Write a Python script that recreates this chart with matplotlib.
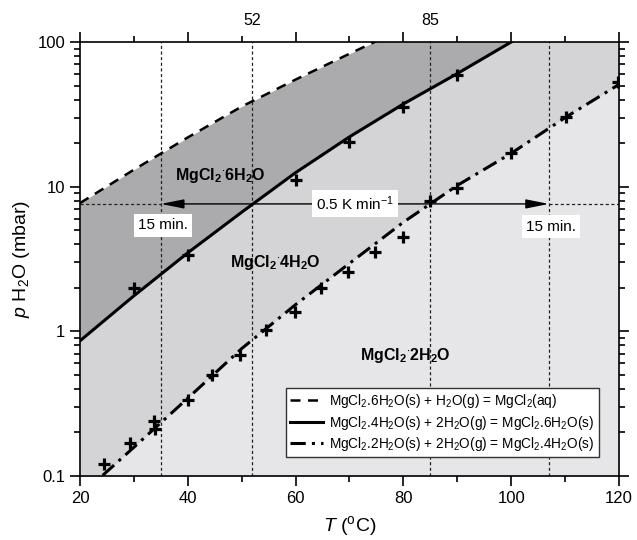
"""Phase diagram of MgCl2 hydrates: water vapour pressure vs temperature."""

import matplotlib

matplotlib.use("Agg")
import matplotlib.pyplot as plt
from matplotlib.ticker import MultipleLocator, LogLocator, NullFormatter

plt.rcParams["font.family"] = ["Liberation Sans", "DejaVu Sans"]
plt.rcParams["mathtext.fontset"] = "custom"
plt.rcParams["mathtext.rm"] = "Liberation Sans"
plt.rcParams["mathtext.it"] = "Liberation Sans:italic"
plt.rcParams["mathtext.bf"] = "Liberation Sans:bold"

# equilibrium curves, read on a common temperature grid (degC -> mbar)
temp = [20, 30, 40, 50, 60, 70, 80, 90, 100, 110, 120]
p_hexa_aq = [7.7, 13.1, 21.9, 35.8, 55, 83, 124, 185, 270, 390, 560]
p_tetra_hexa = [0.86, 1.76, 3.49, 6.66, 12.5, 22.1, 37.3, 60.5, 100, 163, 265]
p_di_tetra = [0.073, 0.158, 0.345, 0.76, 1.53, 2.95, 5.68, 10.2, 17.0, 30, 50.9]

# measured points
t_meas_46 = [30, 40, 60, 70, 80, 90]
p_meas_46 = [2.0, 3.37, 11.1, 20.5, 35.4, 59]
t_meas_24 = [24.5, 29.3, 33.8, 34.0, 40, 44.5, 49.7, 54.6, 59.9, 64.7, 69.8, 74.7, 80, 84.9, 89.9, 99.9, 110.1, 119.8]
p_meas_24 = [0.121, 0.17, 0.24, 0.213, 0.335, 0.5, 0.69, 1.02, 1.37, 1.98, 2.56, 3.55, 4.5, 7.96, 9.75, 17, 30.1, 53]

# heating ramp
t_start, t_hexa, t_tetra, t_end = 35, 52, 85, 107
p_ramp = 7.6

fig = plt.figure(figsize=(6.37, 5.40), dpi=100)
ax = fig.add_axes([0.1256, 0.1185, 0.8461, 0.8037])

ax.fill_between(temp, p_tetra_hexa, p_hexa_aq, color="#ababad", lw=0, zorder=0)
ax.fill_between(temp, p_di_tetra, p_tetra_hexa, color="#d4d4d6", lw=0, zorder=0)
ax.fill_between(temp, 0.01, p_di_tetra, color="#e6e6e8", lw=0, zorder=0)

l1, = ax.plot(temp, p_hexa_aq, color="black", lw=1.8, dashes=(4, 3), zorder=3)
l2, = ax.plot(temp, p_tetra_hexa, color="black", lw=2.2, zorder=3)
l3, = ax.plot(temp, p_di_tetra, color="black", lw=2.2, dashes=(5, 2, 1, 2), zorder=3)

ax.plot(t_meas_46, p_meas_46, ls="none", marker="+", ms=8.5, mew=2.3, color="black", zorder=4)
ax.plot(t_meas_24, p_meas_24, ls="none", marker="+", ms=8.5, mew=2.3, color="black", zorder=4)

for t in [t_start, t_hexa, t_tetra, t_end]:
    ax.axvline(t, color="#222222", lw=0.9, dashes=(2.5, 2), zorder=2)
ax.plot([20, t_start], [p_ramp, p_ramp], color="#222222", lw=0.9, dashes=(2.5, 2), zorder=2)
ax.plot([t_end, 120], [p_ramp, p_ramp], color="#222222", lw=0.9, dashes=(2.5, 2), zorder=2)
ax.annotate("", xy=(t_start, p_ramp), xytext=(t_end, p_ramp),
            arrowprops=dict(arrowstyle="<|-|>,head_length=1.0,head_width=0.2",
                            color="black", lw=1.0, shrinkA=0, shrinkB=0, mutation_scale=14),
            zorder=5)

box = dict(facecolor="white", edgecolor="none", pad=3)
ax.text(71, p_ramp, r"0.5 K min$^{-1}$", ha="center", va="center", fontsize=11, bbox=box, zorder=6)
ax.text(35.4, 5.4, "15 min.", ha="center", va="center", fontsize=11, bbox=box, zorder=6)
ax.text(107.4, 5.3, "15 min.", ha="center", va="center", fontsize=11, bbox=box, zorder=6)

ax.text(46, 11.9, r"$\mathbf{MgCl_2{}^{\cdot}6H_2O}$", ha="center", va="center", fontsize=11.5, zorder=6)
ax.text(56.2, 3.0, r"$\mathbf{MgCl_2{}^{\cdot}4H_2O}$", ha="center", va="center", fontsize=11.5, zorder=6)
ax.text(80.3, 0.68, r"$\mathbf{MgCl_2{}^{\cdot}2H_2O}$", ha="center", va="center", fontsize=11.5, zorder=6)

ax.set_xlim(20, 120)
ax.set_yscale("log")
ax.set_ylim(0.1, 100)
ax.set_yticks([0.1, 1, 10, 100], labels=["0.1", "1", "10", "100"])
ax.yaxis.set_minor_locator(LogLocator(base=10, subs=range(2, 10)))
ax.yaxis.set_minor_formatter(NullFormatter())
ax.xaxis.set_major_locator(MultipleLocator(20))
ax.xaxis.set_minor_locator(MultipleLocator(10))
ax.tick_params(which="both", direction="out", top=True, right=True, width=1.2, labelsize=12)
ax.tick_params(which="major", length=7)
ax.tick_params(which="minor", length=4)
for s in ax.spines.values():
    s.set_linewidth(1.2)

top = ax.secondary_xaxis("top")
top.set_xticks([t_hexa, t_tetra], labels=["52", "85"])
top.tick_params(length=0, labelsize=11.5, pad=10)
top.spines["top"].set_visible(False)

ax.set_xlabel(r"$T$ ($^{\mathrm{o}}$C)", fontsize=14, labelpad=6)
ax.set_ylabel(r"$p$ H$_2$O (mbar)", fontsize=14, labelpad=4)

ax.legend([l1, l2, l3],
          [r"MgCl$_2$.6H$_2$O(s) + H$_2$O(g) = MgCl$_2$(aq)",
           r"MgCl$_2$.4H$_2$O(s) + 2H$_2$O(g) = MgCl$_2$.6H$_2$O(s)",
           r"MgCl$_2$.2H$_2$O(s) + 2H$_2$O(g) = MgCl$_2$.4H$_2$O(s)"],
          loc="lower right", bbox_to_anchor=(0.975, 0.028), fontsize=9.8,
          handlelength=2.4, handletextpad=0.5, borderpad=0.3, labelspacing=0.25,
          fancybox=False, framealpha=1, edgecolor="#333333")

fig.savefig("out.png", dpi=100)
